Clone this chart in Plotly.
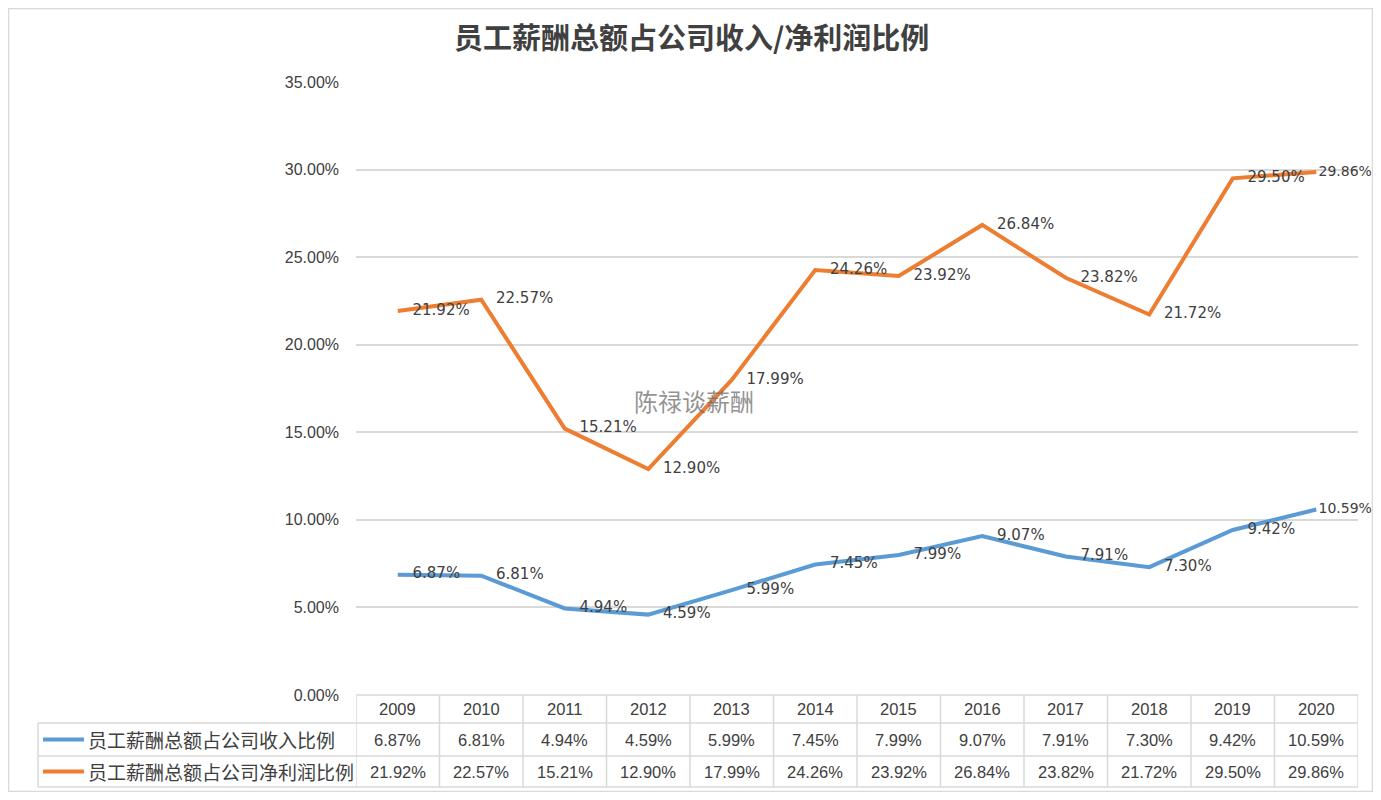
import plotly.graph_objects as go

years = ['2009', '2010', '2011', '2012', '2013', '2014', '2015', '2016', '2017', '2018', '2019', '2020']
revenue_ratio = [0.0687, 0.0681, 0.0494, 0.0459, 0.0599, 0.0745, 0.0799, 0.0907, 0.0791, 0.0730, 0.0942, 0.1059]
profit_ratio = [0.2192, 0.2257, 0.1521, 0.1290, 0.1799, 0.2426, 0.2392, 0.2684, 0.2382, 0.2172, 0.2950, 0.2986]
series_names = ['员工薪酬总额占公司收入比例', '员工薪酬总额占公司净利润比例']
series_colors = ['#5B9BD5', '#ED7D31']

# the page body has an 8px margin, so the figure is made to fit inside it
OFF = 8
W, H = 1381 - 2 * OFF, 800 - 2 * OFF
GRID = '#D9D9D9'
TEXT = '#404040'
CJK = 'Noto Sans CJK SC'
NUM = 'Liberation Sans Narrow, Liberation Sans, Noto Sans CJK SC'

# layout positions in screen pixels
x0, x1 = 356, 1358
y_top, y_zero = 82, 695
row_edges = [695, 723, 756, 787]
table_left = 38


def px(v):
    return min(max(v - OFF, 0.5), W - 0.5) / W


def py(v):
    return 1 - min(max(v - OFF, 0.5), H - 0.5) / H


fig = go.Figure()
xs = list(range(len(years)))
n = len(years)
# invisible markers push the value labels off the line like Excel does; the last one sits tight
gap = [22] * (n - 1) + [2]
label_size = [15] * (n - 1) + [14]
for name, vals, color in zip(series_names, [revenue_ratio, profit_ratio], series_colors):
    fig.add_trace(go.Scatter(
        x=xs, y=vals, name=name, mode='lines+markers+text',
        line=dict(color=color, width=4),
        marker=dict(size=gap, opacity=0, color=color),
        text=[f'{v:.2%}' for v in vals],
        textposition='middle right',
        textfont=dict(family='DejaVu Sans, ' + CJK, size=label_size, color=TEXT),
        showlegend=False, cliponaxis=False,
    ))

annotations = [
    dict(text='<b>员工薪酬总额占公司收入/净利润比例</b>', x=px(691), y=py(36), xref='paper', yref='paper',
         showarrow=False, font=dict(family=CJK, size=29, color=TEXT), xanchor='center', yanchor='middle'),
    dict(text='陈禄谈薪酬', x=px(694), y=py(400), xref='paper', yref='paper', showarrow=False,
         font=dict(family=CJK, size=24, color='rgba(110,110,110,0.75)'), xanchor='center', yanchor='middle'),
]

shapes = []
# table grid lines
for i in range(n + 1):
    shapes.append(dict(type='line', xref='x', yref='paper', x0=i - 0.5, x1=i - 0.5,
                       y0=py(row_edges[-1]), y1=py(row_edges[0]), line=dict(color=GRID, width=1.5)))
shapes.append(dict(type='line', xref='paper', yref='paper', x0=px(table_left), x1=px(table_left),
                   y0=py(row_edges[-1]), y1=py(row_edges[1]), line=dict(color=GRID, width=1.5)))
for k, yy in enumerate(row_edges):
    left = x0 if k == 0 else table_left
    shapes.append(dict(type='line', xref='paper', yref='paper', x0=px(left), x1=px(x1),
                       y0=py(yy), y1=py(yy), line=dict(color=GRID, width=1.5)))
# outer chart border
shapes.append(dict(type='rect', xref='paper', yref='paper', x0=px(1), x1=px(1374), y0=py(796), y1=py(1),
                   line=dict(color=GRID, width=1.5)))

# table header and cells
for i, yr in enumerate(years):
    annotations.append(dict(text=yr, x=i, y=py((row_edges[0] + row_edges[1]) / 2), xref='x', yref='paper',
                            xanchor='center', yanchor='middle', showarrow=False,
                            font=dict(family=NUM, size=16.5, color=TEXT)))
for r, (vals, name, color) in enumerate(zip([revenue_ratio, profit_ratio], series_names, series_colors)):
    yc = py((row_edges[r + 1] + row_edges[r + 2]) / 2)
    for i, v in enumerate(vals):
        annotations.append(dict(text=f'{v:.2%}', x=i, y=yc, xref='x', yref='paper',
                                xanchor='center', yanchor='middle', showarrow=False,
                                font=dict(family=NUM, size=16.5, color=TEXT)))
    annotations.append(dict(text=name, x=px(86), y=yc, xref='paper', yref='paper',
                            xanchor='left', yanchor='middle', showarrow=False,
                            font=dict(family=CJK, size=19, color=TEXT)))
    shapes.append(dict(type='line', xref='paper', yref='paper', x0=px(43), x1=px(84), y0=yc, y1=yc,
                       line=dict(color=color, width=4)))

fig.update_layout(
    width=W, height=H,
    margin=dict(l=0, r=0, t=0, b=0, autoexpand=False),
    paper_bgcolor='white', plot_bgcolor='white',
    annotations=annotations, shapes=shapes,
    xaxis=dict(domain=[px(x0), px(x1)], range=[-0.5, n - 0.5], showticklabels=False,
               showgrid=False, zeroline=False, showline=False, fixedrange=True, automargin=False),
    yaxis=dict(domain=[py(y_zero), py(y_top)], range=[0, 0.35], dtick=0.05, tickformat='.2%',
               showgrid=True, gridcolor=GRID, gridwidth=1.5, zeroline=False, showline=False,
               ticks='', ticklabelstandoff=16, automargin=False,
               tickfont=dict(family=NUM, size=16, color=TEXT)),
)

fig.write_html('out.html')
